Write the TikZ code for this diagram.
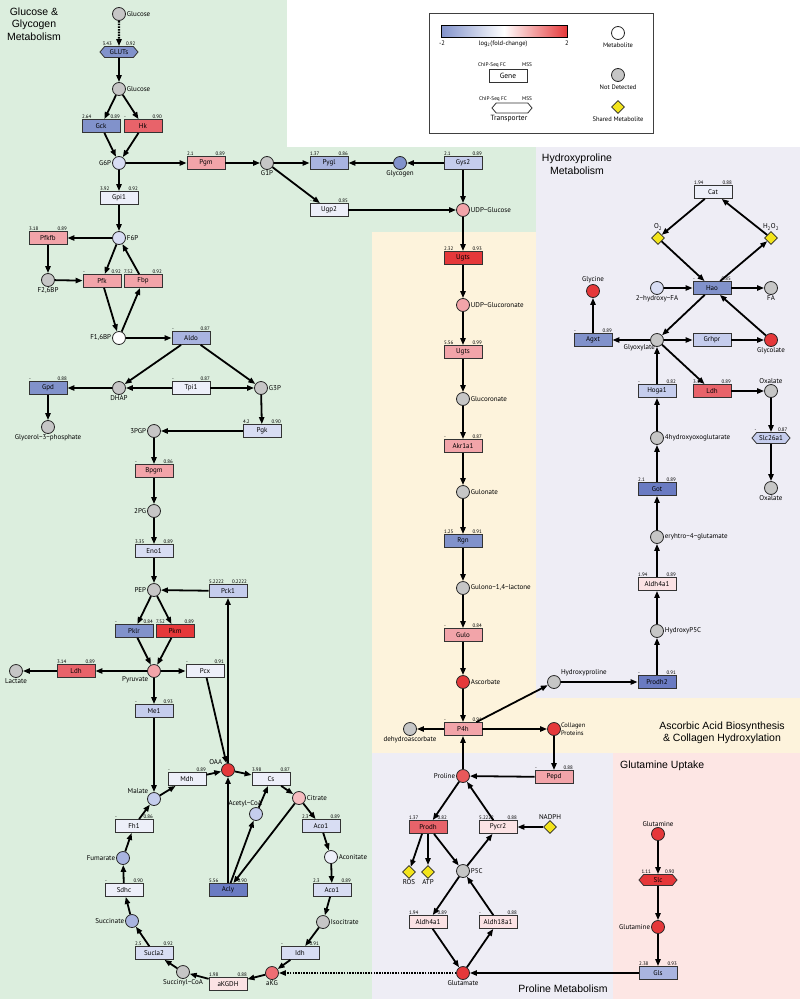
\documentclass[tikz,border=0pt]{standalone}
\usepackage{fontspec}
\setmainfont{PT Sans}
\newfontfamily\ttlfont{Liberation Sans}
\usetikzlibrary{arrows.meta,shapes.geometric,shapes.symbols}
\definecolor{bgG}{HTML}{DCEEDE}
\definecolor{bgL}{HTML}{EEEDF5}
\definecolor{bgY}{HTML}{FDF3DC}
\definecolor{bgP}{HTML}{FDE6E4}
\definecolor{b1}{HTML}{6A7BC2}
\definecolor{b2}{HTML}{8192CB}
\definecolor{b3}{HTML}{A9B4E0}
\definecolor{b4}{HTML}{C5CDED}
\definecolor{b5}{HTML}{D8DDF3}
\definecolor{b6}{HTML}{EDEFF9}
\definecolor{p1}{HTML}{FBE2E4}
\definecolor{p2}{HTML}{F2A4A9}
\definecolor{p3}{HTML}{E8636A}
\definecolor{p4}{HTML}{E5383A}
\definecolor{mgray}{HTML}{C6C6C6}
\definecolor{citc}{HTML}{F6BCC0}
\definecolor{akgc}{HTML}{EE6E74}
\definecolor{prc}{HTML}{E8585A}
\definecolor{shy}{HTML}{F3E41B}
\tikzset{
 met/.style={circle, draw=black!85, line width=0.8pt, minimum size=13pt, inner sep=0pt},
 gbox/.style={rectangle, draw=black!80, line width=0.8pt, minimum width=38pt, minimum height=13pt, inner sep=0pt, font=\fontsize{7}{8}\selectfont},
 tbox/.style={signal, signal to=east and west, signal pointer angle=100, draw=black!80, line width=0.8pt, minimum width=38pt, minimum height=11pt, inner sep=0pt, font=\fontsize{7}{8}\selectfont},
 shr/.style={diamond, draw=black!85, line width=0.8pt, fill=shy, minimum size=13pt, inner sep=0pt},
 num/.style={font=\fontsize{5}{5.5}\selectfont, inner sep=0.4pt},
 mlab/.style={font=\fontsize{7}{8}\selectfont, inner sep=0.8pt},
 lgs/.style={font=\fontsize{6.5}{7.5}\selectfont, inner sep=0pt},
 lgsm/.style={font=\fontsize{5.3}{6}\selectfont, inner sep=0pt},
 arr/.style={line width=1.8pt, -{Triangle[length=7pt,width=5.2pt]}},
 dotarr/.style={line width=2.2pt, dash pattern=on 1.6pt off 1.1pt, -{Triangle[length=7pt,width=5.2pt]}},
 ttl/.style={font=\ttlfont\fontsize{10.5}{12.5}\selectfont, align=center, inner sep=0pt},
}
\newcommand\genebox[7]{\node[gbox,fill=#5] (#1) at (#2,#3) {#4};
 \node[num,anchor=south west] at (#1.north west) {#6};
 \node[num,anchor=south east] at (#1.north east) {#7};}
\newcommand\transbox[7]{\node[tbox,fill=#5] (#1) at (#2,#3) {#4};
 \node[num,anchor=south west] at ([shift={(-17pt,5.5pt)}]#1.center) {#6};
 \node[num,anchor=south east] at ([shift={(17pt,5.5pt)}]#1.center) {#7};}
\newcommand\metab[5]{\node[met,fill=#4,label={[mlab]#5}] (#1) at (#2,#3) {};}
\begin{document}
\begin{tikzpicture}[x=1pt,y=-1pt]
\useasboundingbox (0,0) rectangle (800,999);
% backgrounds
\fill[bgG] (0,0) rectangle (800,999);
\fill[white] (287,0) rectangle (800,147);
\fill[bgL] (536,147) rectangle (800,698);
\fill[bgY] (372,232) rectangle (536,753);
\fill[bgY] (372,698) rectangle (800,753);
\fill[bgL] (372,753) rectangle (613,999);
\fill[bgP] (613,753) rectangle (800,999);
% titles
\node[ttl] (t1) at (34,24) {Glucose \&\\Glycogen\\Metabolism};
\node[ttl] (t2) at (577,164) {Hydroxyproline\\Metabolism};
\node[ttl] (t3) at (722,733) {Ascorbic Acid Biosynthesis\\\& Collagen Hydroxylation};
\node[ttl, anchor=west] (t4) at (620,766) {Glutamine Uptake};
\node[ttl] (t5) at (563,989) {Proline Metabolism};
% legend
\draw[line width=0.9pt, draw=black!75, fill=white] (429,13) rectangle (653,133);
\shade[left color=b2, right color=p4, middle color=white] (441,25) rectangle (567,37);
\draw[line width=0.6pt] (441,25) rectangle (567,37);
\node[lgs] (lm2) at (442,43) {-2};
\node[lgs] (lp2) at (567,43) {2};
\node[lgs] (llog) at (503,44) {log\textsubscript{2}(fold-change)};
\node[lgsm] (lc1) at (492,65) {ChIP-Seq FC};
\node[lgsm] (lm1) at (527,65) {MSS};
\node[gbox, fill=white, font=\fontsize{7.5}{8}\selectfont] (lgene) at (508,76) {Gene};
\node[lgsm] (lc2) at (493,99) {ChIP-Seq FC};
\node[lgsm] (lm3) at (527,99) {MSS};
\node[tbox, fill=white, minimum width=40pt, minimum height=10pt] (ltr) at (512,108) {};
\node[lgs, font=\fontsize{7.5}{8}\selectfont] (ltrl) at (509,119) {Transporter};
\node[met, fill=white] (lmet) at (618,33) {};
\node[lgs] (lmetl) at (618,45) {Metabolite};
\node[met, fill=mgray] (lnd) at (618,75) {};
\node[lgs] (lndl) at (618,87) {Not Detected};
\node[shr] (lsh) at (618,107) {};
\node[lgs] (lshl) at (618,119) {Shared Metabolite};
% glycolysis
\metab{glc}{119}{14}{mgray}{right:Glucose}
\transbox{gluts}{119}{52}{GLUTs}{b2}{3.43}{0.92}
\metab{glcb}{119}{89}{mgray}{right:Glucose}
\genebox{gck}{101}{126}{Gck}{b2}{2.64}{0.89}
\genebox{hk}{143}{126}{Hk}{p3}{-}{0.90}
\metab{g6p}{119}{163}{b5}{left:G6P}
\genebox{pgm}{206}{163}{Pgm}{p2}{2.1}{0.89}
\metab{g1p}{267}{163}{mgray}{below:G1P}
\genebox{pygl}{329}{163}{Pygl}{b3}{1.37}{0.86}
\metab{glycogen}{400}{163}{b2}{below:Glycogen}
\genebox{gys2}{463}{163}{Gys2}{b4}{2.1}{0.89}
\genebox{ugp2}{329}{210}{Ugp2}{b6}{-}{0.85}
\metab{udpg}{463}{210}{p2}{right:UDP−Glucose}
\genebox{gpi1}{119}{198}{Gpi1}{b6}{3.92}{0.92}
\metab{f6p}{119}{238}{b5}{right:F6P}
\genebox{pfkfb}{48}{238}{Pfkfb}{p2}{3.18}{0.89}
\metab{f26bp}{48}{280}{mgray}{below:{F2,6BP}}
\genebox{pfk}{102}{281}{Pfk}{p2}{-}{0.92}
\genebox{fbp}{143}{281}{Fbp}{p2}{7.52}{0.92}
\metab{f16bp}{119}{338}{white}{left:{F1,6BP}}
\genebox{aldo}{191}{338}{Aldo}{b3}{-}{0.87}
\metab{dhap}{119}{388}{mgray}{below:DHAP}
\genebox{gpd}{48}{388}{Gpd}{b2}{-}{0.88}
\metab{g3pp}{48}{427}{mgray}{below:Glycerol−3−phosphate}
\genebox{tpi1}{191}{388}{Tpi1}{b6}{-}{0.87}
\metab{g3p}{261}{388}{mgray}{right:G3P}
\genebox{pgk}{262}{431}{Pgk}{b5}{4.2}{0.90}
\metab{pgp3}{154}{431}{mgray}{left:3PGP}
\genebox{bpgm}{154}{471}{Bpgm}{p2}{-}{0.86}
\metab{pg2}{154}{511}{mgray}{left:2PG}
\genebox{eno1}{154}{551}{Eno1}{b5}{3.35}{0.89}
\metab{pep}{154}{590}{mgray}{left:PEP}
\genebox{pck1}{228}{591}{Pck1}{b4}{5.2222}{0.2222}
\genebox{pklr}{134}{631}{Pklr}{b2}{-}{0.84}
\genebox{pkm}{175}{631}{Pkm}{p4}{7.52}{0.89}
\metab{pyr}{154}{671}{p2}{below left:Pyruvate}
\genebox{ldha}{76}{671}{Ldh}{p3}{3.14}{0.89}
\metab{lac}{16}{671}{mgray}{below:Lactate}
\genebox{pcx}{205}{671}{Pcx}{b6}{-}{0.91}
\genebox{me1}{154}{711}{Me1}{b4}{-}{0.93}
% TCA
\metab{oaa}{228}{770}{p4}{above left:OAA}
\genebox{mdh}{187}{779}{Mdh}{b6}{-}{0.89}
\genebox{cs}{271}{779}{Cs}{b6}{3.98}{0.87}
\metab{cit}{299}{798}{citc}{right:Citrate}
\metab{acoa}{256}{814}{b4}{}
\node[mlab, anchor=south east] (acoal) at (263,808) {Acetyl−CoA};
\genebox{acoa1}{321}{826}{Aco1}{b5}{2.3}{0.89}
\metab{acon}{331}{857}{b6}{right:Aconitate}
\genebox{acob}{332}{890}{Aco1}{b5}{2.3}{0.89}
\metab{isoc}{323}{922}{mgray}{right:Isocitrate}
\genebox{idh}{300}{953}{Idh}{b5}{-}{0.91}
\metab{akg}{272}{973}{akgc}{below:aKG}
\genebox{akgdh}{228}{984}{aKGDH}{p1}{1.98}{0.88}
\metab{succoa}{183}{972}{mgray}{below:Succinyl−CoA}
\genebox{sucla2}{154}{953}{Sucla2}{b5}{2.5}{0.92}
\metab{succ}{132}{921}{b3}{left:Succinate}
\genebox{sdhc}{124}{890}{Sdhc}{b6}{-}{0.90}
\metab{fum}{123}{858}{b3}{left:Fumarate}
\genebox{fh1}{134}{826}{Fh1}{b6}{-}{0.86}
\metab{mal}{154}{799}{b4}{above left:Malate}
\genebox{acly}{228}{890}{Acly}{b1}{5.56}{0.90}
% ascorbic
\genebox{ugtsa}{463}{258}{Ugts}{p4}{2.32}{0.93}
\metab{udpgl}{463}{305}{p2}{right:UDP−Glucoronate}
\genebox{ugtsb}{463}{352}{Ugts}{p2}{5.56}{0.99}
\metab{glcn}{463}{399}{mgray}{right:Glucoronate}
\genebox{akr}{463}{446}{Akr1a1}{p2}{-}{0.87}
\metab{gulon}{463}{492}{mgray}{right:Gulonate}
\genebox{rgn}{463}{541}{Rgn}{b2}{1.25}{0.91}
\metab{gulac}{463}{588}{mgray}{right:{Gulono−1,4−lactone}}
\genebox{gulo}{463}{635}{Gulo}{p2}{-}{0.84}
\metab{asc}{463}{682}{p4}{right:Ascorbate}
\genebox{p4h}{463}{729}{P4h}{p2}{-}{0.91}
\metab{dha}{410}{729}{mgray}{below:dehydroascorbate}
\metab{coll}{554}{729}{p4}{}
\node[mlab, anchor=west, align=left, font=\fontsize{6.5}{8}\selectfont] (colll) at (560,729) {Collagen\\Proteins};
\metab{hyp}{554}{682}{mgray}{}
\node[mlab, anchor=west] (hypl) at (560,673) {Hydroxyproline};
\genebox{pepd}{554}{777}{Pepd}{p2}{-}{0.88}
% hydroxyproline
\genebox{cat}{713}{192}{Cat}{b6}{1.94}{0.88}
\node[shr, label={[mlab]above:O\textsubscript{2}}] (o2) at (658,238) {};
\node[shr, label={[mlab]above:H\textsubscript{2}O\textsubscript{2}}] (h2o2) at (771,238) {};
\genebox{hao}{712}{288}{Hao}{b2}{-}{0.85}
\metab{hfa}{657}{288}{b5}{below:2−hydroxy−FA}
\metab{fa}{771}{288}{mgray}{below:FA}
\metab{glyx}{657}{340}{mgray}{}
\node[mlab, anchor=east] (glyxl) at (656,348) {Glyoxylate};
\genebox{agxt}{593}{340}{Agxt}{b2}{-}{0.89}
\metab{gly}{593}{291}{p4}{above:Glycine}
\genebox{grhpr}{712}{340}{Grhpr}{b4}{}{}
\metab{glyc}{771}{340}{p4}{below:Glycolate}
\genebox{hoga1}{657}{391}{Hoga1}{b4}{-}{0.82}
\genebox{ldhb}{712}{391}{Ldh}{p3}{3.14}{0.89}
\metab{oxa}{771}{391}{mgray}{above:Oxalate}
\transbox{slc26}{771}{438}{Slc26a1}{b4}{-}{0.87}
\metab{oxb}{771}{488}{mgray}{below:Oxalate}
\metab{hog}{657}{438}{mgray}{right:4hydroxyoxoglutarate}
\genebox{got}{657}{489}{Got}{b1}{2.1}{0.89}
\metab{ery}{657}{537}{mgray}{right:eryhtro−4−glutamate}
\genebox{aldhh}{657}{584}{Aldh4a1}{p1}{1.94}{0.89}
\metab{hp5c}{657}{631}{mgray}{right:HydroxyP5C}
\genebox{prodh2}{657}{682}{Prodh2}{b1}{-}{0.91}
% proline
\metab{pro}{463}{776}{prc}{left:Proline}
\genebox{prodh}{428}{827}{Prodh}{p3}{1.37}{0.82}
\genebox{pycr2}{498}{827}{Pycr2}{p1}{5.2222}{0.88}
\node[shr, label={[mlab]above:NADPH}] (nadph) at (550,827) {};
\node[shr, label={[mlab]below:ROS}] (ros) at (409,872) {};
\node[shr, label={[mlab]below:ATP}] (atp) at (428,872) {};
\metab{p5c}{463}{871}{mgray}{right:P5C}
\genebox{aldhp}{428}{922}{Aldh4a1}{p1}{1.94}{0.89}
\genebox{aldh18}{498}{922}{Aldh18a1}{p1}{-}{0.88}
\metab{glu}{463}{973}{p4}{below:Glutamate}
\metab{gln}{658}{834}{p4}{above:Glutamine}
\transbox{slc}{658}{880}{Slc}{p4}{1.11}{0.90}
\metab{glnb}{658}{927}{p4}{left:Glutamine}
\genebox{gls}{658}{973}{Gls}{b3}{2.38}{0.93}
% connectors
\draw[dotarr] (glc) -- (gluts);
\draw[dotarr] (glu) -- (akg);
\foreach \a/\b in {gluts/glcb, glcb/gck, glcb/hk, gck/g6p, hk/g6p, g6p/pgm, pgm/g1p, g1p/pygl,
  glycogen/pygl, gys2/glycogen, g1p/ugp2, ugp2/udpg, gys2/udpg, g6p/gpi1, gpi1/f6p,
  f6p/pfkfb, pfkfb/f26bp, f26bp/pfk, f6p/pfk, fbp/f6p, pfk/f16bp, f16bp/fbp, f16bp/aldo,
  aldo/dhap, aldo/g3p, tpi1/dhap, tpi1/g3p, dhap/gpd, gpd/g3pp, g3p/pgk, pgk/pgp3,
  pgp3/bpgm, bpgm/pg2, pg2/eno1, eno1/pep, pck1/pep, pep/pklr, pep/pkm, pklr/pyr, pkm/pyr,
  pyr/ldha, ldha/lac, pyr/pcx, pyr/me1, me1/mal, pcx/oaa, oaa/pck1, acly/oaa,
  mal/mdh, mdh/oaa, oaa/cs, cs/cit, acoa/cs, cit/acly, acly/acoa, cit/acoa1, acoa1/acon,
  acon/acob, acob/isoc, isoc/idh, idh/akg, akg/akgdh, akgdh/succoa, succoa/sucla2,
  sucla2/succ, succ/sdhc, sdhc/fum, fum/fh1, fh1/mal,
  udpg/ugtsa, ugtsa/udpgl, udpgl/ugtsb, ugtsb/glcn, glcn/akr, akr/gulon, gulon/rgn,
  rgn/gulac, gulac/gulo, gulo/asc, asc/p4h, p4h/dha, p4h/coll, p4h/hyp, pro/p4h,
  coll/pepd, pepd/pro, hyp/prodh2, prodh2/hp5c, hp5c/aldhh, aldhh/ery, ery/got, got/hog,
  hog/hoga1, hoga1/glyx, glyx/agxt, agxt/gly, glyx/grhpr, grhpr/glyc, glyc/hao, hao/glyx,
  glyx/ldhb, ldhb/oxa, oxa/slc26, slc26/oxb, hfa/hao, hao/fa, cat/o2, h2o2/cat, o2/hao,
  hao/h2o2, pro/prodh, pycr2/pro, nadph/pycr2, p5c/pycr2, p5c/aldhp, aldhp/glu,
  glu/aldh18, aldh18/p5c, gls/glu, gln/slc, slc/glnb, glnb/gls}
  {\draw[arr] (\a) -- (\b);}
\draw[arr] ([xshift=-6pt]prodh.south) -- (ros);
\draw[arr] (prodh.south) -- (atp);
\draw[arr] ([xshift=6pt]prodh.south) -- (p5c);
\end{tikzpicture}
\end{document}
